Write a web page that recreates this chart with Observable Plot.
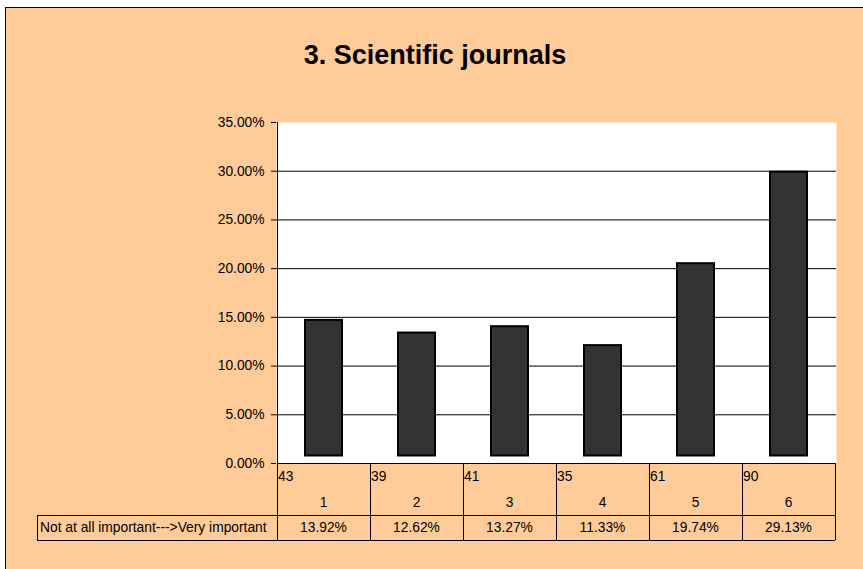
<!DOCTYPE html>
<html>
<head>
<meta charset="utf-8">
<script src="https://cdn.jsdelivr.net/npm/d3@7"></script>
<script src="https://cdn.jsdelivr.net/npm/@observablehq/plot@0.6"></script>
<style>
  html, body { margin: 0; padding: 0; background: #ffffff; }
  #wrap { position: relative; width: 863px; height: 569px; overflow: hidden; font-family: "Liberation Sans", Arial, sans-serif; }
  #panel { position: absolute; left: 5px; top: 7px; width: 880px; height: 600px; background: #FFCC99; border: 1px solid #000; box-sizing: border-box; }
  #title { position: absolute; left: 0; top: 39px; width: 870px; text-align: center; font-size: 27px; font-weight: bold; color: #000; line-height: 32px; }
  #chart { position: absolute; left: 0; top: 0; }
</style>
</head>
<body>
<div id="wrap">
  <div id="panel"></div>
  <div id="title"></div>
  <div id="chart"></div>
</div>
<script>
const chartTitle = "3. Scientific journals";
const categories = ["1", "2", "3", "4", "5", "6"];
const counts = [43, 39, 41, 35, 61, 90];
const shares = [0.1392, 0.1262, 0.1327, 0.1133, 0.1974, 0.2913];
const barBase = 0.0077; // bars float slightly above 0 in the original
const yTicks = [0, 0.05, 0.10, 0.15, 0.20, 0.25, 0.30, 0.35];
const gridTicks = [0.05, 0.10, 0.15, 0.20, 0.25, 0.30];
const rowLabel = "Not at all important--->Very important";

document.getElementById("title").textContent = chartTitle;

const data = categories.map((c, i) => ({cat: c, count: counts[i], share: shares[i]}));
const fmtPct = d3.format(".2%");
const FONT = "'Liberation Sans', Arial, sans-serif";
const FS = 13.8;

function tableMark(index, scales, values, dims) {
  const x = scales.x, y = scales.y;
  const bw = x.bandwidth ? x.bandwidth() : (dims.width - dims.marginLeft - dims.marginRight) / categories.length;
  const y0 = y(0);
  const left = x(categories[0]);
  const right = x(categories[categories.length - 1]) + bw;
  const row1 = y0 + 52;
  const row2 = row1 + 25;
  const labelLeft = 37;
  const g = d3.create("svg:g")
    .attr("font-family", FONT)
    .attr("font-size", FS)
    .attr("text-anchor", "start")
    .attr("fill", "#000");
  const lines = g.append("g").attr("stroke", "#000").attr("stroke-width", 1).attr("shape-rendering", "crispEdges");
  lines.append("line").attr("x1", left).attr("x2", left).attr("y1", y(0.35)).attr("y2", y0);
  lines.append("line").attr("x1", left).attr("x2", right).attr("y1", y0).attr("y2", y0);
  lines.append("line").attr("x1", labelLeft).attr("x2", right).attr("y1", row1).attr("y2", row1);
  lines.append("line").attr("x1", labelLeft).attr("x2", right).attr("y1", row2).attr("y2", row2);
  lines.append("line").attr("x1", labelLeft).attr("x2", labelLeft).attr("y1", row1).attr("y2", row2);
  categories.forEach(c => {
    lines.append("line").attr("x1", x(c)).attr("x2", x(c)).attr("y1", y0).attr("y2", row2);
  });
  lines.append("line").attr("x1", right).attr("x2", right).attr("y1", y0).attr("y2", row2);
  data.forEach(d => {
    const cx = x(d.cat);
    g.append("text").attr("x", cx + 1).attr("y", y0 + 17.5).attr("text-anchor", "start").text(d.count);
    g.append("text").attr("x", cx + bw / 2).attr("y", y0 + 44).attr("text-anchor", "middle").text(d.cat);
    g.append("text").attr("x", cx + bw / 2).attr("y", row2 - 8).attr("text-anchor", "middle").text(fmtPct(d.share));
  });
  g.append("text").attr("x", labelLeft + 3).attr("y", row2 - 8).attr("text-anchor", "start").text(rowLabel);
  return g.node();
}

const plot = Plot.plot({
  width: 863,
  height: 569,
  marginLeft: 276,
  marginRight: 27,
  marginTop: 122,
  marginBottom: 106,
  style: {background: "transparent", color: "#000", fontFamily: FONT, fontSize: FS + "px", overflow: "visible"},
  x: {domain: categories, padding: 0, axis: null},
  y: {domain: [0, 0.35], ticks: yTicks, tickFormat: ".2%", tickSize: 5, tickPadding: 7, label: null},
  marks: [
    Plot.frame({fill: "white", stroke: null}),
    Plot.ruleY(gridTicks, {stroke: "#000", strokeWidth: 1}),
    Plot.barY(data, {
      x: "cat",
      y1: () => barBase,
      y2: d => d.share + barBase,
      fill: "#333333",
      stroke: "#000",
      strokeWidth: 2,
      insetLeft: 28,
      insetRight: 28
    }),
    tableMark
  ]
});
document.getElementById("chart").appendChild(plot);
</script>
</body>
</html>
